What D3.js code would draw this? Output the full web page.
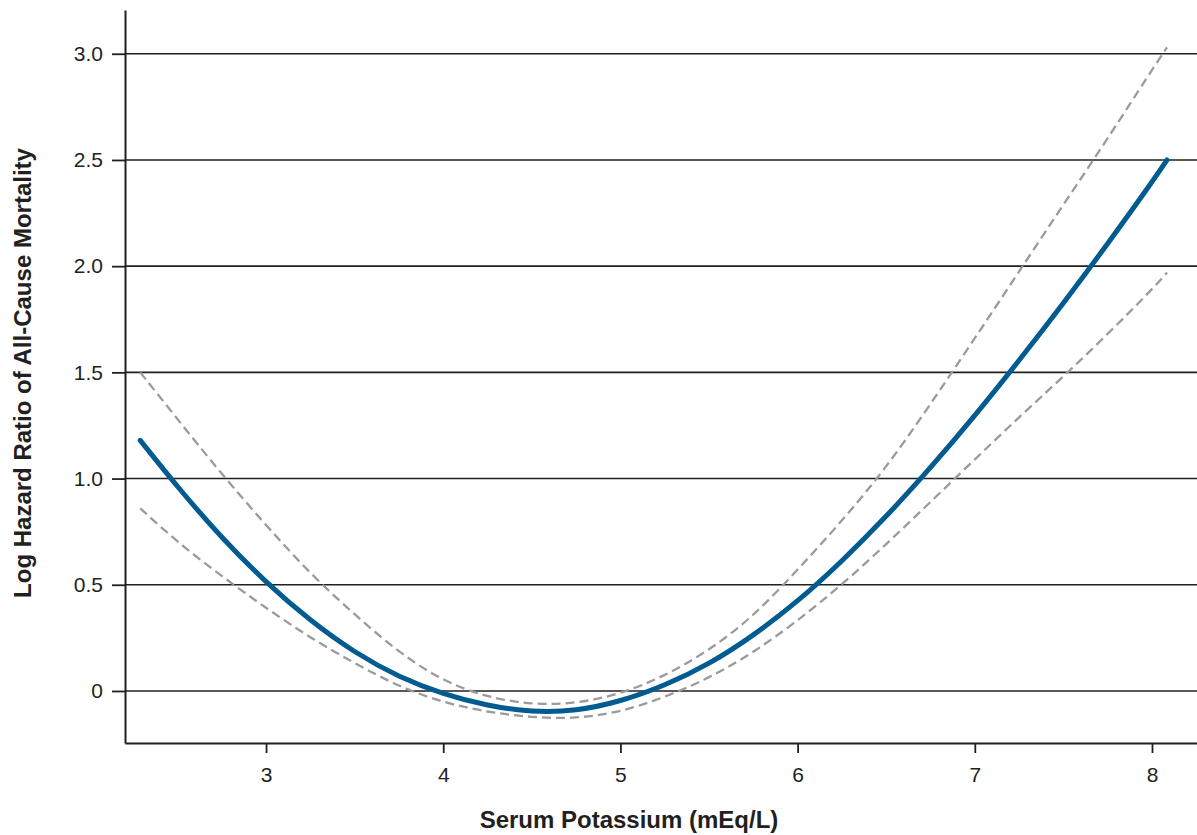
<!DOCTYPE html>
<html>
<head>
<meta charset="utf-8">
<script src="https://cdn.jsdelivr.net/npm/d3@7"></script>
<style>
  body { margin: 0; background: #fff; }
  text { font-family: "Liberation Sans", Arial, Helvetica, sans-serif; fill: #231f20; }
</style>
</head>
<body>
<script>
// serum potassium (mEq/L) and log hazard ratio
var potassium = [2.29, 2.5, 2.75, 3.0, 3.25, 3.5, 3.75, 4.0, 4.25, 4.5, 4.75, 5.0, 5.25,
                 5.5, 5.75, 6.0, 6.25, 6.5, 6.75, 7.0, 7.25, 7.5, 7.75, 8.0, 8.085];
var logHR = [1.18, 0.96, 0.72, 0.51, 0.33, 0.18, 0.065, -0.015, -0.07, -0.10, -0.095, -0.05, 0.025,
             0.125, 0.26, 0.42, 0.61, 0.82, 1.05, 1.295, 1.555, 1.825, 2.105, 2.395, 2.50];
var upperCI = [1.50, 1.28, 1.02, 0.78, 0.55, 0.36, 0.18, 0.045, -0.03, -0.065, -0.06, -0.015, 0.07,
               0.19, 0.35, 0.57, 0.80, 1.05, 1.35, 1.66, 1.975, 2.29, 2.60, 2.925, 3.03];
var lowerCI = [0.86, 0.70, 0.54, 0.39, 0.25, 0.13, 0.02, -0.055, -0.10, -0.125, -0.13, -0.10, -0.03,
               0.06, 0.18, 0.33, 0.50, 0.69, 0.89, 1.09, 1.29, 1.48, 1.68, 1.89, 1.97];

var xTicks = [3, 4, 5, 6, 7, 8];
var yTicks = [0, 0.5, 1.0, 1.5, 2.0, 2.5, 3.0];
var yTickLabels = ['0', '0.5', '1.0', '1.5', '2.0', '2.5', '3.0'];

window.onload = function() {
  var width = 1197;
  var height = 835;
  var left = 125, right = 1197, top = 10, bottom = 743;
  var ink = '#231f20';

  var svg = d3.select('body').append('svg')
              .attr('width', width)
              .attr('height', height);

  var x = d3.scaleLinear().domain([2.204, 8.254]).range([left, right]);
  var y = d3.scaleLinear().domain([-0.245, 3.206]).range([bottom, top]);

  // horizontal grid lines
  svg.append('g').selectAll('line').data(yTicks)
     .enter().append('line')
     .attr('x1', left).attr('x2', right)
     .attr('y1', function(d) { return y(d); })
     .attr('y2', function(d) { return y(d); })
     .attr('stroke', ink).attr('stroke-width', 1.6);

  var yAxis = svg.append('g')
                 .attr('transform', 'translate(' + left + ',0)')
                 .call(d3.axisLeft(y).tickValues(yTicks)
                   .tickFormat(function(d, i) { return yTickLabels[i]; })
                   .tickSize(13).tickSizeOuter(0).tickPadding(9));

  var xAxis = svg.append('g')
                 .attr('transform', 'translate(0,' + bottom + ')')
                 .call(d3.axisBottom(x).tickValues(xTicks)
                   .tickFormat(d3.format('d'))
                   .tickSize(10).tickSizeOuter(0).tickPadding(14));

  [xAxis, yAxis].forEach(function(g) {
    g.select('.domain').attr('stroke', ink).attr('stroke-width', 2);
    g.selectAll('.tick line').attr('stroke', ink).attr('stroke-width', 1.8);
    g.selectAll('.tick text')
     .attr('fill', ink)
     .style('font-size', '21px')
     .style('font-family', '"Liberation Sans", Arial, sans-serif');
  });

  var line = function(values) {
    return d3.line()
             .x(function(d, i) { return x(potassium[i]); })
             .y(function(d) { return y(d); })
             .curve(d3.curveBasis)(values);
  };

  [upperCI, lowerCI].forEach(function(ci) {
    svg.append('path')
       .attr('d', line(ci))
       .attr('fill', 'none')
       .attr('stroke', '#9b9b9d')
       .attr('stroke-width', 2.3)
       .attr('stroke-dasharray', '9,5');
  });

  svg.append('path')
     .attr('d', line(logHR))
     .attr('fill', 'none')
     .attr('stroke', '#005b91')
     .attr('stroke-width', 5)
     .attr('stroke-linecap', 'round');

  svg.append('text')
     .attr('x', 629).attr('y', 828)
     .attr('text-anchor', 'middle')
     .style('font-size', '24px').style('font-weight', 'bold')
     .text('Serum Potassium (mEq/L)');

  svg.append('text')
     .attr('transform', 'translate(31,373) rotate(-90)')
     .attr('text-anchor', 'middle')
     .style('font-size', '24px').style('font-weight', 'bold')
     .text('Log Hazard Ratio of All-Cause Mortality');
};
</script>
</body>
</html>
